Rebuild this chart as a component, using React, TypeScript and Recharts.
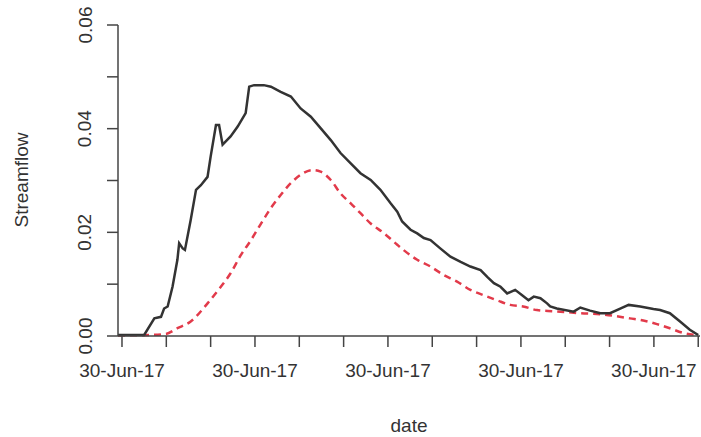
import React from "react";
import { LineChart, Line, XAxis, YAxis } from "recharts";

// observed streamflow (x in tick units along the date axis)
const obsDay = [
  -0.09, 0.5, 0.73, 0.88, 0.95, 1.03, 1.14, 1.25, 1.29, 1.37, 1.42, 1.55, 1.67, 1.78, 1.93, 2.0,
  2.12, 2.19, 2.27, 2.45, 2.61, 2.79, 2.87, 2.98, 3.2, 3.36, 3.58, 3.81, 4.03, 4.26, 4.48, 4.71,
  4.93, 5.16, 5.38, 5.61, 5.83, 6.06, 6.21, 6.32, 6.51, 6.66, 6.81, 6.96, 7.18, 7.41, 7.64, 7.86,
  8.09, 8.24, 8.39, 8.54, 8.69, 8.87, 9.02, 9.17, 9.29, 9.44, 9.59, 9.66, 9.81, 10.19, 10.34, 10.56,
  10.79, 11.01, 11.24, 11.43, 11.69, 11.99, 12.14, 12.36, 12.59, 12.81, 13.0,
];
const obsFlow = [
  0.0002, 0.0002, 0.0034, 0.0037, 0.0053, 0.0057, 0.0095, 0.0147, 0.0179, 0.0169, 0.0166, 0.0224,
  0.0282, 0.0291, 0.0307, 0.0346, 0.0407, 0.0407, 0.0369, 0.0385, 0.0404, 0.043, 0.0481, 0.0484,
  0.0484, 0.0481, 0.0471, 0.0462, 0.0439, 0.0423, 0.0401, 0.0378, 0.0353, 0.0333, 0.0314, 0.0301,
  0.0282, 0.0256, 0.024, 0.0221, 0.0205, 0.0198, 0.0189, 0.0185, 0.0169, 0.0153, 0.0143, 0.0134,
  0.0127, 0.0114, 0.0102, 0.0095, 0.0082, 0.0089, 0.0079, 0.0069, 0.0076, 0.0073, 0.0063, 0.0057,
  0.0053, 0.0047, 0.0055, 0.0049, 0.0044, 0.0044, 0.0053, 0.006, 0.0057, 0.0052, 0.005, 0.0044,
  0.0028, 0.0012, 0.0002,
];

// simulated streamflow
const simDay = [
  -0.09, 0.65, 0.99, 1.25, 1.55, 1.93, 2.23, 2.45, 2.68, 2.91, 3.13, 3.36, 3.58, 3.81, 4.03, 4.3,
  4.48, 4.71, 4.93, 5.16, 5.38, 5.61, 5.9, 6.21, 6.35, 6.66, 6.96, 7.25, 7.56, 7.86, 8.15, 8.46,
  8.76, 9.05, 9.36, 9.89, 10.34, 10.79, 11.09, 11.46, 11.76, 12.07, 12.36, 12.66, 12.97,
];
const simFlow = [
  0.0001, 0.0002, 0.0004, 0.0015, 0.0028, 0.0063, 0.0095, 0.0121, 0.0156, 0.0185, 0.0216, 0.0247,
  0.0272, 0.0295, 0.0311, 0.032, 0.0317, 0.0301, 0.0275, 0.0256, 0.0237, 0.0217, 0.0199, 0.0176,
  0.0166, 0.0147, 0.0134, 0.0118, 0.0105, 0.0089, 0.0079, 0.0069, 0.006, 0.0057, 0.005, 0.0047,
  0.0044, 0.0042, 0.0039, 0.0034, 0.003, 0.0023, 0.0015, 0.0006, 0.0002,
];

const xTicks = [0, 1, 2, 3, 4, 5, 6, 7, 8, 9, 10, 11, 12, 13];
const xLabelTicks = [0, 3, 6, 9, 12];
const xLabel = "30-Jun-17";
const yTicks = [0, 0.01, 0.02, 0.03, 0.04, 0.05, 0.06];
const yLabelTicks = [0, 0.02, 0.04, 0.06];

const observed = obsDay.map((d, i) => ({ day: d, flow: obsFlow[i] }));
const simulated = simDay.map((d, i) => ({ day: d, flow: simFlow[i] }));

const FONT = "'Liberation Sans', Arial, sans-serif";
const TEXT = "#333";
const AXIS = "#444";

function XTick(props: any) {
  const { x, y, payload } = props;
  if (!xLabelTicks.includes(payload.value)) return null;
  return (
    <text x={x} y={y + 30} textAnchor="middle" fontSize={19} fontFamily={FONT} fill={TEXT}>
      {xLabel}
    </text>
  );
}

function YTick(props: any) {
  const { y, payload } = props;
  if (!yLabelTicks.includes(payload.value)) return null;
  const cx = 85;
  return (
    <text
      x={cx}
      y={y}
      transform={`rotate(-90, ${cx}, ${y})`}
      textAnchor="middle"
      dominantBaseline="central"
      fontSize={19}
      fontFamily={FONT}
      fill={TEXT}
    >
      {payload.value.toFixed(2)}
    </text>
  );
}

export default function App() {
  return (
    <div style={{ position: "relative", width: 701, height: 437, background: "#fff" }}>
      <style>{`body{margin:0}`}</style>
      <LineChart width={701} height={437} margin={{ top: 25, right: 1, bottom: 0, left: 0 }}>
        <XAxis
          dataKey="day"
          type="number"
          domain={[-0.07, 13.04]}
          ticks={xTicks}
          interval={0}
          height={101}
          tickSize={11}
          tickMargin={0}
          stroke={AXIS}
          strokeWidth={1.5}
          tick={<XTick />}
          allowDuplicatedCategory={false}
        />
        <YAxis
          type="number"
          domain={[0, 0.06]}
          ticks={yTicks}
          interval={0}
          width={118}
          tickSize={11}
          stroke={AXIS}
          strokeWidth={1.5}
          tick={<YTick />}
        />
        <Line
          data={simulated}
          dataKey="flow"
          type="monotone"
          stroke="#e23a4a"
          strokeWidth={2.5}
          strokeDasharray="7 5"
          dot={false}
          isAnimationActive={false}
        />
        <Line
          data={observed}
          dataKey="flow"
          type="linear"
          stroke="#333"
          strokeWidth={2.5}
          dot={false}
          isAnimationActive={false}
        />
        <text
          x={21}
          y={180}
          transform="rotate(-90, 21, 180)"
          textAnchor="middle"
          dominantBaseline="central"
          fontSize={19}
          fontFamily={FONT}
          fill={TEXT}
        >
          Streamflow
        </text>
        <text x={409} y={432} textAnchor="middle" fontSize={19} fontFamily={FONT} fill={TEXT}>
          date
        </text>
      </LineChart>
    </div>
  );
}
